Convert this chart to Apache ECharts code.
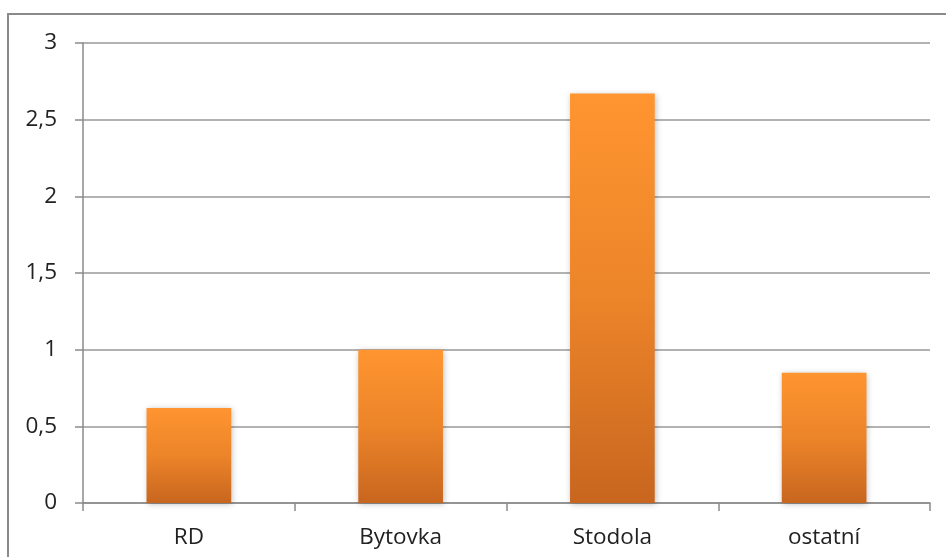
<!DOCTYPE html>
<html>
<head>
<meta charset="utf-8">
<script src="https://cdn.jsdelivr.net/npm/echarts@6/dist/echarts.min.js"></script>
<style>
  html, body { margin: 0; padding: 0; background: #fff; }
  #chart { width: 946px; height: 557px; }
</style>
</head>
<body>
<div id="chart"></div>
<script>
// Building categories and their values
const categories = ['RD', 'Bytovka', 'Stodola', 'ostatní'];
const values = [0.62, 1.0, 2.67, 0.85];
const yTicks = [0, 0.5, 1, 1.5, 2, 2.5, 3];

const chart = echarts.init(document.getElementById('chart'), null, { renderer: 'canvas' });

const barFill = new echarts.graphic.LinearGradient(0, 0, 0, 1, [
  { offset: 0, color: '#FF9530' },
  { offset: 0.5, color: '#EC8429' },
  { offset: 1, color: '#C8661F' }
]);

const labelFont = '"Open Sans", Lato, sans-serif';

chart.setOption({
  animation: false,
  graphic: [{
    type: 'rect',
    shape: { x: 8, y: 14, width: 960, height: 560 },
    style: { fill: 'none', stroke: '#8a8a8a', lineWidth: 2 },
    silent: true
  }],
  grid: { left: 83, right: 16, top: 43, bottom: 54, containLabel: false },
  xAxis: {
    type: 'category',
    data: categories,
    axisLine: { lineStyle: { color: '#8a8a8a', width: 1.5 } },
    axisTick: { show: true, length: 8, lineStyle: { color: '#8a8a8a', width: 1.5 } },
    axisLabel: {
      color: '#222', fontFamily: labelFont, fontSize: 22.5, margin: 23
    }
  },
  yAxis: {
    type: 'value',
    min: 0, max: 3, interval: 0.5,
    axisLine: { show: true, lineStyle: { color: '#8a8a8a', width: 1.5 } },
    axisTick: { show: true, length: 8, lineStyle: { color: '#8a8a8a', width: 1.5 } },
    splitLine: { lineStyle: { color: '#999', width: 1.5 } },
    axisLabel: {
      color: '#222', fontFamily: labelFont, fontSize: 22.5, margin: 26,
      formatter: v => String(v).replace('.', ',')
    }
  },
  series: [{
    type: 'bar',
    data: values,
    barWidth: '40%',
    itemStyle: {
      color: barFill,
      shadowColor: 'rgba(0,0,0,0.25)',
      shadowBlur: 6,
      shadowOffsetX: 1,
      shadowOffsetY: 1
    }
  }]
});
</script>
</body>
</html>
